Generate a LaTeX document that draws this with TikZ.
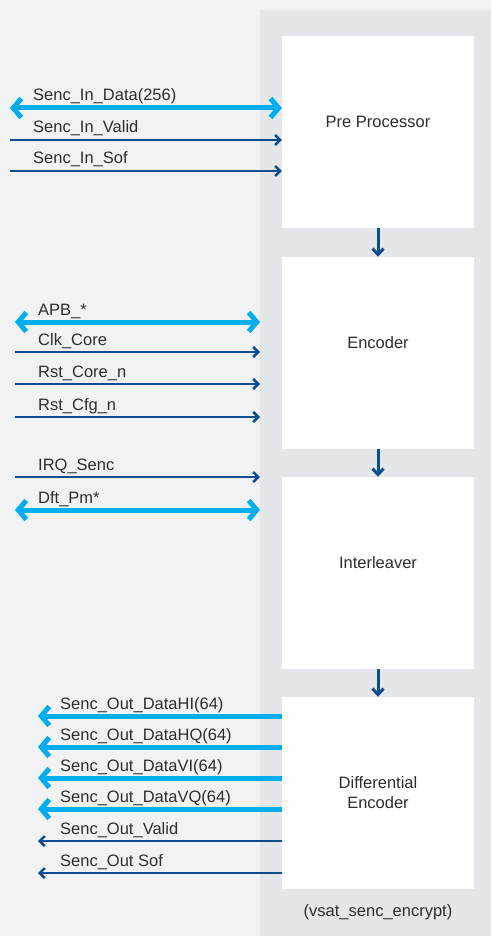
\documentclass[tikz,border=0pt]{standalone}
\usepackage{fontspec}
\setmainfont{Liberation Sans}
\usetikzlibrary{arrows.meta,positioning}
\definecolor{fondo}{HTML}{F0F2F4}
\definecolor{gris}{HTML}{E4E6E9}
\definecolor{cian}{HTML}{00AEEF}
\definecolor{marino}{HTML}{0B4D8F}
\definecolor{texto}{HTML}{2E2E2E}
\tikzset{
  bloque/.style={fill=white,minimum width=192pt,minimum height=192pt,inner sep=0pt,
                 align=center,text=texto,font=\fontsize{16.5}{20}\selectfont},
  unalinea/.style={bloque,text depth=20pt},
  etiqueta/.style={anchor=base west,inner sep=0pt,text=texto,font=\fontsize{16.5}{20}\selectfont},
  bus/.style={cian,line width=5pt},
  busdoble/.style={bus,{Straight Barb[length=8pt,width=19pt]}-{Straight Barb[length=8pt,width=19pt]}},
  busizq/.style={bus,{Straight Barb[length=8pt,width=19pt]}-},
  senal/.style={marino,line width=2.5pt,-{Straight Barb[length=5pt,width=10pt]}},
  senalizq/.style={marino,line width=2.5pt,{Straight Barb[length=5pt,width=10pt]}-},
  flujo/.style={marino,line width=3pt,-{Straight Barb[length=6pt,width=11pt]}}
}
\begin{document}
\begin{tikzpicture}[x=1pt,y=-1pt]
  \useasboundingbox (0,0) rectangle (491,936);
  \fill[fondo] (0,0) rectangle (491,936);
  % marco del modulo
  \node[fill=gris,minimum width=231pt,minimum height=926pt,inner sep=0pt,anchor=north west] (marco) at (260,10) {};
  % bloques
  \node[unalinea] (pre) at (378,132) {Pre Processor};
  \node[unalinea] (enc) at (378,353) {Encoder};
  \node[unalinea] (int) at (378,573) {Interleaver};
  \node[bloque] (dif) at (378,793) {Differential\\Encoder};
  \node[text=texto,font=\fontsize{16.5}{20}\selectfont] (nombre) at (378,912) {(vsat\_senc\_encrypt)};
  \draw[flujo] (pre.south) -- (enc.north);
  \draw[flujo] (enc.south) -- (int.north);
  \draw[flujo] (int.south) -- (dif.north);
  % entradas del pre procesador
  \foreach \y/\nom/\txt/\est in {108/din/Senc\_In\_Data(256)/busdoble,
                                 140/dval/Senc\_In\_Valid/senal,
                                 171/dsof/Senc\_In\_Sof/senal}{
    \coordinate (\nom) at (10,\y);
    \draw[\est] (\nom) -- (\nom -| pre.west);
    \node[etiqueta] (\nom-lbl) at ([xshift=23pt,yshift=7pt]\nom) {\txt};
  }
  % control y configuracion
  \foreach \y/\nom/\txt/\est in {322/apb/APB\_*/busdoble,
                                 352/clk/Clk\_Core/senal,
                                 384/rcore/Rst\_Core\_n/senal,
                                 417/rcfg/Rst\_Cfg\_n/senal,
                                 477/irq/IRQ\_Senc/senal,
                                 510/dft/Dft\_Pm*/busdoble}{
    \coordinate (\nom) at (15,\y);
    \draw[\est] (\nom) -- (\nom -| marco.west);
    \node[etiqueta] (\nom-lbl) at ([xshift=23pt,yshift=7pt]\nom) {\txt};
  }
  % salidas
  \foreach \y/\nom/\txt/\est in {716/ohi/Senc\_Out\_DataHI(64)/busizq,
                                 747/ohq/Senc\_Out\_DataHQ(64)/busizq,
                                 778/ovi/Senc\_Out\_DataVI(64)/busizq,
                                 809/ovq/Senc\_Out\_DataVQ(64)/busizq,
                                 841/oval/Senc\_Out\_Valid/senalizq,
                                 873/osof/Senc\_Out Sof/senalizq}{
    \coordinate (\nom) at (38,\y);
    \draw[\est] (\nom) -- (\nom -| dif.west);
    \node[etiqueta] (\nom-lbl) at ([xshift=22pt,yshift=7pt]\nom) {\txt};
  }
\end{tikzpicture}
\end{document}
